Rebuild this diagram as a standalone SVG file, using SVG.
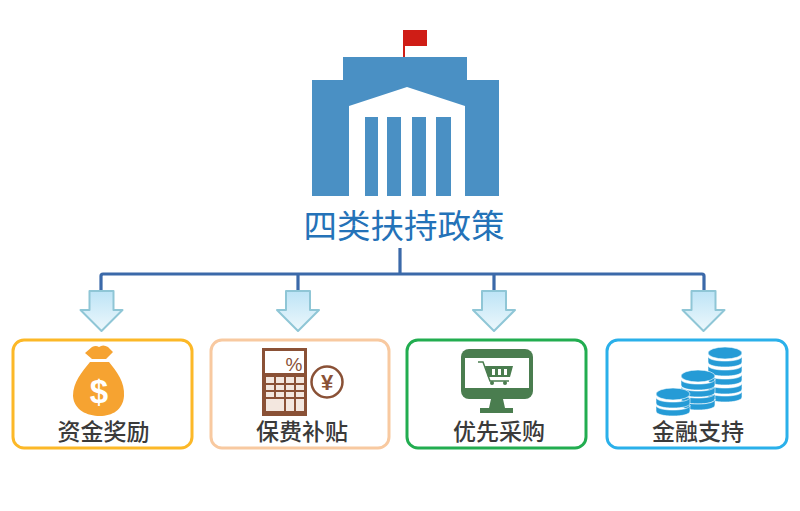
<svg xmlns="http://www.w3.org/2000/svg" width="800" height="511" viewBox="0 0 800 511">
<style>
.t{font-family:"Noto Sans CJK SC","Liberation Sans",sans-serif;text-anchor:middle}
.lab{font-size:23px;fill:#3a3a3a;font-weight:500}
.box{fill:#fff;stroke-width:3}
.conn{fill:none;stroke:#3b69a9;stroke-width:3.2;stroke-linejoin:round}
.arrow{fill:url(#ag);stroke:#8fc6d6;stroke-width:2;stroke-linejoin:round}
.b{fill:#4a90c4}
.coin{fill:#259bd6;stroke:#fff;stroke-width:.6}
</style>
<defs>
<linearGradient id="ag" x1="0" y1="0" x2="0" y2="1">
<stop offset="0" stop-color="#bde4f6"/><stop offset="1" stop-color="#edf8fc"/>
</linearGradient>
<path id="arr" d="M-12 291H12V310H21L0 331L-21 310H-12Z"/>
<path id="band" class="coin" d="M-17 0V6C-17 9.500 -9 11 0 11S17 9.500 17 6V0C17 3.500 9 5 0 5S-17 3.500 -17 0Z"/>
<ellipse id="top" class="coin" cx="0" cy="0" rx="17" ry="6"/>
</defs>
<rect width="800" height="511" fill="#fff"/>
<g id="connectors">
<path class="conn" d="M400 248V274M101 292V276Q101 274 103 274H702Q704 274 704 276V292M298 274V292M494 274V292"/>
<use href="#arr" class="arrow" x="101.500"/>
<use href="#arr" class="arrow" x="298"/>
<use href="#arr" class="arrow" x="494"/>
<use href="#arr" class="arrow" x="703.500"/>
</g>
<g id="root">
<path fill="#cf1d16" d="M403 30H427V46H405V57H403Z"/>
<path class="b" d="M343 57H467V80H499V196H465V106L407 87L349 106V196H312V80H343Z"/>
<rect class="b" x="365" y="117" width="13" height="79"/>
<rect class="b" x="387" y="117" width="14" height="79"/>
<rect class="b" x="412" y="117" width="14" height="79"/>
<rect class="b" x="436" y="117" width="15" height="79"/>
<text class="t" x="404" y="238" font-size="33.500" fill="#2472b8">四类扶持政策</text>
</g>
<g id="node-1">
<rect class="box" x="13" y="340" width="179" height="108" rx="11" stroke="#fcb827"/>
<path fill="#f6a331" d="M92 347Q96 345 99 347Q103 344 108 347L113 352L106 359H92L85 353Z"/>
<path fill="#f6a331" d="M90 362H109C117 372 125 382 124 396C123 410 112 416 100 416C87 416 74 410 73 396C73 382 82 372 90 362Z"/>
<text x="99" y="403" font-family="Liberation Sans,sans-serif" font-weight="700" font-size="33" fill="#fff" text-anchor="middle">$</text>
<text class="t lab" x="103.500" y="440">资金奖励</text>
</g>
<g id="node-2">
<rect class="box" x="211" y="340" width="178" height="108" rx="11" stroke="#f8c9a0"/>
<rect x="263.500" y="349.500" width="42" height="65" fill="#fff" stroke="#8a5136" stroke-width="3"/>
<rect x="263" y="373" width="43" height="42" fill="#8a5136"/>
<g fill="#f3e7df">
<rect x="266" y="377" width="8" height="6"/><rect x="276" y="377" width="8" height="6"/><rect x="286" y="377" width="8" height="6"/><rect x="296" y="377" width="8" height="6"/>
<rect x="266" y="385" width="8" height="5"/><rect x="276" y="385" width="8" height="5"/><rect x="286" y="385" width="8" height="5"/><rect x="296" y="385" width="8" height="5"/>
<rect x="266" y="392" width="8" height="5"/><rect x="276" y="392" width="8" height="5"/><rect x="286" y="392" width="8" height="5"/><rect x="296" y="392" width="8" height="5"/>
<rect x="266" y="399" width="18" height="12"/><rect x="286" y="399" width="8" height="12"/><rect x="296" y="399" width="8" height="12"/>
</g>
<text x="294" y="371" font-family="Liberation Sans,sans-serif" font-size="19" fill="#8a5136" text-anchor="middle">%</text>
<circle cx="327" cy="382" r="15.500" fill="#fff" stroke="#8a5136" stroke-width="2.500"/>
<text x="327" y="390" font-family="Liberation Sans,sans-serif" font-weight="700" font-size="22" fill="#8a5136" text-anchor="middle">¥</text>
<text class="t lab" x="302" y="440">保费补贴</text>
</g>
<g id="node-3">
<rect class="box" x="407" y="340" width="179" height="108" rx="11" stroke="#22ad50"/>
<rect x="461" y="349" width="72" height="50" rx="8" fill="#4a7d4f"/>
<rect x="465" y="358" width="64" height="30" fill="#fff"/>
<path fill="#4a7d4f" d="M491 399H503L505 408H513V413H480V408H489Z"/>
<path fill="none" stroke="#4a7d4f" stroke-width="1.500" d="M478 362H483L490 381H509"/>
<path fill="#4a7d4f" d="M485 366H513L510 377H488Z"/>
<g fill="#fff"><rect x="492" y="369" width="3" height="6"/><rect x="498" y="369" width="3" height="6"/><rect x="504" y="369" width="3" height="6"/></g>
<circle cx="492" cy="383" r="2" fill="#4a7d4f"/><circle cx="505" cy="383" r="2" fill="#4a7d4f"/>
<text class="t lab" x="499" y="440">优先采购</text>
</g>
<g id="node-4">
<rect class="box" x="607" y="340" width="180" height="108" rx="11" stroke="#2ab0ea"/>
<use href="#top" x="725" y="353"/>
<use href="#band" x="725" y="356"/><use href="#band" x="725" y="365"/><use href="#band" x="725" y="374"/><use href="#band" x="725" y="383"/><use href="#band" x="725" y="391"/>
<use href="#top" x="698" y="376"/>
<use href="#band" x="698" y="379"/><use href="#band" x="698" y="386"/><use href="#band" x="698" y="393"/><use href="#band" x="698" y="399"/>
<use href="#top" x="673" y="394"/>
<use href="#band" x="673" y="397"/><use href="#band" x="673" y="405"/>
<text class="t lab" x="698" y="440">金融支持</text>
</g>
</svg>
